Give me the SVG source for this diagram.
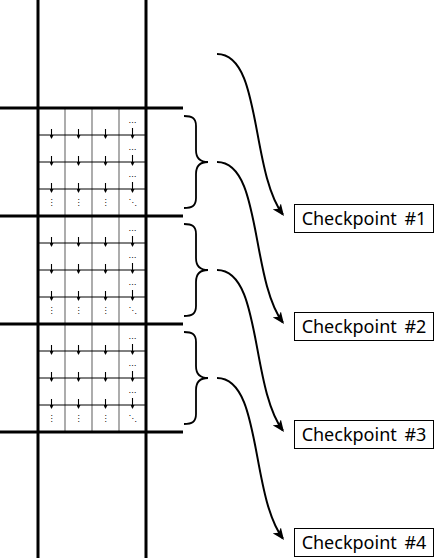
<svg xmlns="http://www.w3.org/2000/svg" xmlns:xlink="http://www.w3.org/1999/xlink" width="440" height="558" viewBox="0 0 440 558">
  <style>
    .thick { stroke: #000; stroke-width: 3; fill: none; }
    .hthin { stroke: #000; stroke-width: 1; fill: none; }
    .vthin { stroke: #808080; stroke-width: 1.3; fill: none; }
    .small { stroke: #000; stroke-width: 1.1; fill: none; marker-end: url(#sm); }
    .dots { font-family: "DejaVu Sans", sans-serif; font-size: 8px; fill: #000; text-anchor: middle; }
    .brace { stroke: #000; stroke-width: 1.8; fill: none; }
    .flow { stroke: #000; stroke-width: 2; fill: none; marker-end: url(#big); }
    .box { fill: #fff; stroke: #000; stroke-width: 1; }
    .label { font-family: "Noto Sans", "DejaVu Sans", sans-serif; font-size: 18px; word-spacing: 3px; fill: #000; text-anchor: middle; }
  </style>
  <defs>
    <marker id="big" markerUnits="userSpaceOnUse" viewBox="0 0 12 10" refX="10" refY="5" markerWidth="12" markerHeight="10" orient="auto">
      <path d="M0,0 L12,5 L0,10 L3,5 Z" fill="#000"/>
    </marker>
    <marker id="sm" markerUnits="userSpaceOnUse" viewBox="0 0 4 4" refX="3" refY="2" markerWidth="4" markerHeight="4" orient="auto">
      <path d="M0,0 L4,2 L0,4 Z" fill="#000"/>
    </marker>
    <g id="arrowRow">
      <line class="small" x1="51.5" y1="-6" x2="51.5" y2="3"/>
      <line class="small" x1="78.5" y1="-6" x2="78.5" y2="3"/>
      <line class="small" x1="105.5" y1="-6" x2="105.5" y2="3"/>
      <line class="small" x1="132.5" y1="-7" x2="132.5" y2="3"/>
    </g>
    <g id="blockContent">
      <line class="hthin" x1="38" y1="27" x2="146" y2="27"/>
      <line class="hthin" x1="38" y1="54" x2="146" y2="54"/>
      <line class="hthin" x1="38" y1="81" x2="146" y2="81"/>
      <use xlink:href="#arrowRow" href="#arrowRow" transform="translate(0,27)"/>
      <use xlink:href="#arrowRow" href="#arrowRow" transform="translate(0,54)"/>
      <use xlink:href="#arrowRow" href="#arrowRow" transform="translate(0,81)"/>
      <text class="dots" x="132.5" y="15">…</text>
      <text class="dots" x="132.5" y="42">…</text>
      <text class="dots" x="132.5" y="69">…</text>
      <text class="dots" x="51.5" y="97">⋮</text>
      <text class="dots" x="78.5" y="97">⋮</text>
      <text class="dots" x="105.5" y="97">⋮</text>
      <text class="dots" x="132.5" y="97">⋱</text>
    </g>
    <path id="braceShape" class="brace" d="M184,116 C192,116 196,118 196,126 L196,150 C196,158 200,162 208,162 C200,162 196,166 196,174 L196,198 C196,206 192,208 184,208"/>
  </defs>

  <g id="tape">
    <line class="vthin" x1="65" y1="108" x2="65" y2="432"/>
    <line class="vthin" x1="92" y1="108" x2="92" y2="432"/>
    <line class="vthin" x1="119" y1="108" x2="119" y2="432"/>
    <line class="thick" x1="38" y1="0" x2="38" y2="558"/>
    <line class="thick" x1="146" y1="0" x2="146" y2="558"/>
  </g>

  <g id="block1">
    <use xlink:href="#blockContent" href="#blockContent" transform="translate(0,108)"/>
  </g>
  <g id="block2">
    <use xlink:href="#blockContent" href="#blockContent" transform="translate(0,216)"/>
  </g>
  <g id="block3">
    <use xlink:href="#blockContent" href="#blockContent" transform="translate(0,324)"/>
  </g>

  <g id="separators">
    <line class="thick" x1="0" y1="108" x2="183" y2="108"/>
    <line class="thick" x1="0" y1="216" x2="183" y2="216"/>
    <line class="thick" x1="0" y1="324" x2="183" y2="324"/>
    <line class="thick" x1="0" y1="432" x2="183" y2="432"/>
  </g>

  <g id="braces">
    <use xlink:href="#braceShape" href="#braceShape"/>
    <use xlink:href="#braceShape" href="#braceShape" transform="translate(0,108)"/>
    <use xlink:href="#braceShape" href="#braceShape" transform="translate(0,216)"/>
  </g>

  <g id="connectors">
    <path class="flow" d="M217,54 C262,54 250,170 282.8,214.4"/>
    <path class="flow" d="M217,162 C262,162 250,278 282.8,322.4"/>
    <path class="flow" d="M217,270 C262,270 250,386 282.8,430.4"/>
    <path class="flow" d="M217,378 C262,378 250,494 282.8,538.4"/>
  </g>

  <g id="checkpoint1">
    <rect class="box" x="294.5" y="204.5" width="139" height="28"/>
    <text class="label" x="364" y="225">Checkpoint #1</text>
  </g>
  <g id="checkpoint2">
    <rect class="box" x="294.5" y="312.5" width="139" height="28"/>
    <text class="label" x="364" y="333">Checkpoint #2</text>
  </g>
  <g id="checkpoint3">
    <rect class="box" x="294.5" y="420.5" width="139" height="28"/>
    <text class="label" x="364" y="441">Checkpoint #3</text>
  </g>
  <g id="checkpoint4">
    <rect class="box" x="294.5" y="528.5" width="139" height="28"/>
    <text class="label" x="364" y="549">Checkpoint #4</text>
  </g>
</svg>
